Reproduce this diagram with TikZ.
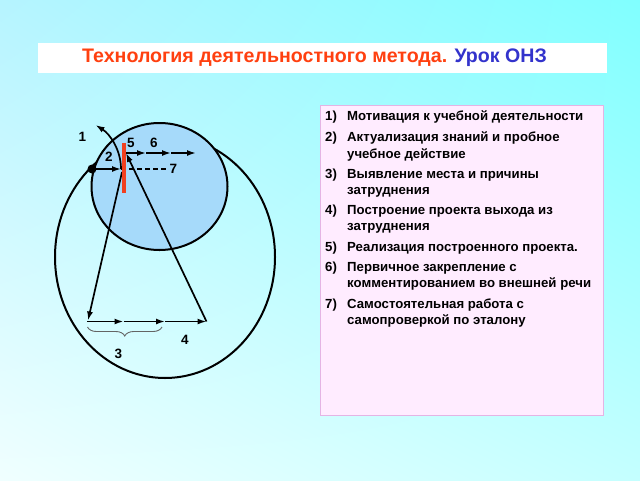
\documentclass[tikz,border=0pt]{standalone}
\usepackage{fontspec}
\setmainfont{Liberation Sans}
\usetikzlibrary{arrows.meta,decorations.pathreplacing,shadings}
\definecolor{bgTL}{RGB}{182,244,255}
\definecolor{bgTR}{RGB}{128,255,255}
\definecolor{bgBL}{RGB}{240,255,255}
\definecolor{bgBR}{RGB}{196,255,255}
\definecolor{titlered}{RGB}{255,64,16}
\definecolor{titleblue}{RGB}{51,51,204}
\definecolor{circfill}{RGB}{166,218,250}
\definecolor{pinkfill}{RGB}{255,236,255}
\definecolor{pinkline}{RGB}{228,180,228}
\definecolor{barred}{RGB}{240,64,32}
\definecolor{bracegray}{RGB}{100,100,100}
\tikzset{
  lbl/.style={font=\bfseries\fontsize{13.5}{15}\selectfont, inner sep=0pt},
  itm/.style={font=\bfseries\fontsize{13.2}{15}\selectfont, inner sep=0pt, anchor=base west},
  arr/.style={line width=1.7pt, -{Latex[length=9pt,width=6pt]}},
  ring/.style={line width=2pt}
}
\begin{document}
\begin{tikzpicture}[x=1pt,y=-1pt]
\useasboundingbox (0,0) rectangle (640,480);
\shade[upper left=bgTL, upper right=bgTR, lower left=bgBL, lower right=bgBR] (0,0) rectangle (640,480);
% title
\fill[white] (38,43) rectangle (607,73);
\node[inner sep=0pt, font=\bfseries\fontsize{19.6}{22}\selectfont] (title) at (314.5,58) {\textcolor{titlered}{Технология деятельностного метода.} \textcolor{titleblue}{Урок ОНЗ}};
% right box
\draw[pinkline, fill=pinkfill, line width=0.8pt] (320,105) rectangle (603,415);
\node[itm] (n1) at (325,120) {1)};
\node[itm] (t1) at (347,120) {Мотивация к учебной деятельности};
\node[itm] (n2) at (325,141.5) {2)};
\node[itm] (t2a) at (347,141.5) {Актуализация знаний и пробное};
\node[itm] (t2b) at (347,158) {учебное действие};
\node[itm] (n3) at (325,178) {3)};
\node[itm] (t3a) at (347,178) {Выявление места и причины};
\node[itm] (t3b) at (347,194.7) {затруднения};
\node[itm] (n4) at (325,214.7) {4)};
\node[itm] (t4a) at (347,214.7) {Построение проекта выхода из};
\node[itm] (t4b) at (347,230.7) {затруднения};
\node[itm] (n5) at (325,251.4) {5)};
\node[itm] (t5) at (347,251.4) {Реализация построенного проекта.};
\node[itm] (n6) at (325,271.4) {6)};
\node[itm] (t6a) at (347,271.4) {Первичное закрепление с};
\node[itm] (t6b) at (347,287.4) {комментированием во внешней речи};
\node[itm] (n7) at (325,308.7) {7)};
\node[itm] (t7a) at (347,308.7) {Самостоятельная работа с};
\node[itm] (t7b) at (347,324.7) {самопроверкой по эталону};
% circles
\draw[ring] (165,257) circle[x radius=110pt, y radius=121pt];
\draw[ring, fill=circfill] (159.5,186.5) circle[x radius=68pt, y radius=63.5pt];
% coordinates
\coordinate (dot) at (92,169);
\coordinate (bar) at (121,169);
\coordinate (dashend) at (167,169);
\coordinate (arctip) at (95.5,125);
\coordinate (top) at (126,153);
\coordinate (m1) at (146,153);
\coordinate (m2) at (171,153);
\coordinate (m3) at (196,153);
\coordinate (low) at (122,172);
\coordinate (bl) at (88,320.5);
\coordinate (b0) at (87,321.5);
\coordinate (b1) at (123.5,321.5);
\coordinate (b2) at (165,321.5);
\coordinate (b3) at (206.5,321.5);
% arrows
\draw[arr] (dot) -- (bar);
\draw[line width=1.7pt, dash pattern=on 5pt off 3pt] (bar) -- (dashend);
\draw[arr] (bar) .. controls (121,150) and (110,134) .. (arctip);
\draw[arr] (top) -- (m1);
\draw[arr] (m1) -- (m2);
\draw[arr] (m2) -- (m3);
\draw[arr] (low) -- (bl);
\draw[arr] (b0) -- (b1);
\draw[arr] (b1) -- (b2);
\draw[arr] (b2) -- (b3);
\draw[arr] (b3) -- (top);
% brace
\draw[bracegray, line width=0.9pt, decorate, decoration={brace, amplitude=9pt, mirror}] (87.5,327) -- (162,327);
% red bar and dot
\fill[barred] (121.5,143) rectangle (125.5,193);
\fill (dot) circle (4.5pt);
% labels
\node[lbl] (l1) at (82.5,136.5) {1};
\node[lbl] (l2) at (109,157) {2};
\node[lbl] (l3) at (118.5,353.5) {3};
\node[lbl] (l4) at (185,340) {4};
\node[lbl] (l5) at (131,142.5) {5};
\node[lbl] (l6) at (154,142.5) {6};
\node[lbl] (l7) at (173.5,169) {7};
\end{tikzpicture}
\end{document}
